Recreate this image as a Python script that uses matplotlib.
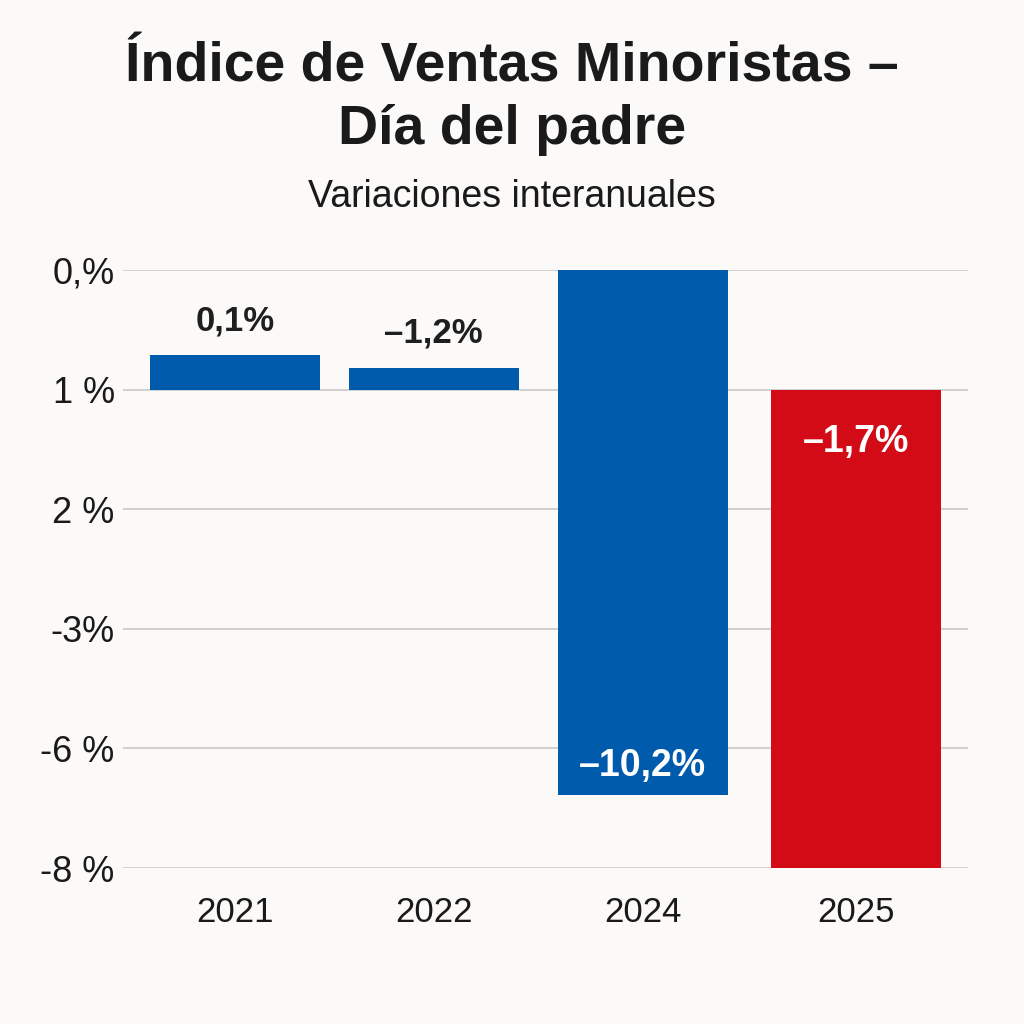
import matplotlib
matplotlib.use("Agg")
import matplotlib.pyplot as plt

years = ["2021", "2022", "2024", "2025"]
# bar extents in the chart's own (grid-index) axis units: start and end
bar_start = [1.0, 1.0, 0.0, 1.0]
bar_end = [0.71, 0.82, 4.39, 5.0]
value_labels = ["0,1%", "–1,2%", "–10,2%", "–1,7%"]
tick_labels = ["0,%", "1 %", "2 %", "-3%", "-6 %", "-8 %"]

BLUE = "#005BAC"
RED = "#D20B17"
BG = "#FBFAF8"
colors = [BLUE, BLUE, BLUE, RED]

plt.rcParams['font.family'] = ['Liberation Sans', 'DejaVu Sans']

fig = plt.figure(figsize=(10.24, 10.24), dpi=100, facecolor=BG)
ax = fig.add_axes([123/1024, 1 - 868/1024, (968-123)/1024, (868-270)/1024])
ax.set_facecolor(BG)

xs = [0, 0.96, 1.97, 3.0]
heights = [e - s for s, e in zip(bar_start, bar_end)]
ax.bar(xs, heights, bottom=bar_start, width=0.82, color=colors, zorder=3)

ax.set_xlim(-0.54, 3.54)
ax.set_ylim(5, 0)
ax.set_yticks(range(len(tick_labels)))
ax.set_yticklabels(tick_labels, fontsize=26, color="#1a1a1a")
ax.set_xticks(xs)
ax.set_xticklabels(years, fontsize=25, color="#1a1a1a")
ax.tick_params(axis='both', length=0)
ax.tick_params(axis='y', pad=6)
ax.tick_params(axis='x', pad=20)
ax.grid(axis='y', color="#C9C9C9", linewidth=1.2, zorder=0)
for s in ax.spines.values():
    s.set_visible(False)

# value labels: 2021, 2022 above bar; 2024 inside near bottom; 2025 inside near top
ax.text(xs[0], bar_end[0] - 0.28, value_labels[0], ha='center', va='center', fontsize=25,
        fontweight='bold', color="#1f1f1f", zorder=4)
ax.text(xs[1], bar_end[1] - 0.29, value_labels[1], ha='center', va='center', fontsize=25,
        fontweight='bold', color="#1f1f1f", zorder=4)
ax.text(xs[2], bar_end[2] - 0.24, value_labels[2], ha='center', va='center', fontsize=27,
        fontweight='bold', color="white", zorder=4)
ax.text(xs[3], bar_start[3] + 0.44, value_labels[3], ha='center', va='center', fontsize=27,
        fontweight='bold', color="white", zorder=4)

fig.text(0.5, 1 - 68/1024, "Índice de Ventas Minoristas –", ha='center', va='center',
         fontsize=40, fontweight='bold', color="#1a1a1a")
fig.text(0.5, 1 - 130/1024, "Día del padre", ha='center', va='center',
         fontsize=40, fontweight='bold', color="#1a1a1a")
fig.text(0.5, 1 - 197/1024, "Variaciones interanuales", ha='center', va='center',
         fontsize=27, color="#1a1a1a")

fig.savefig("out.png", dpi=100, facecolor=BG)
